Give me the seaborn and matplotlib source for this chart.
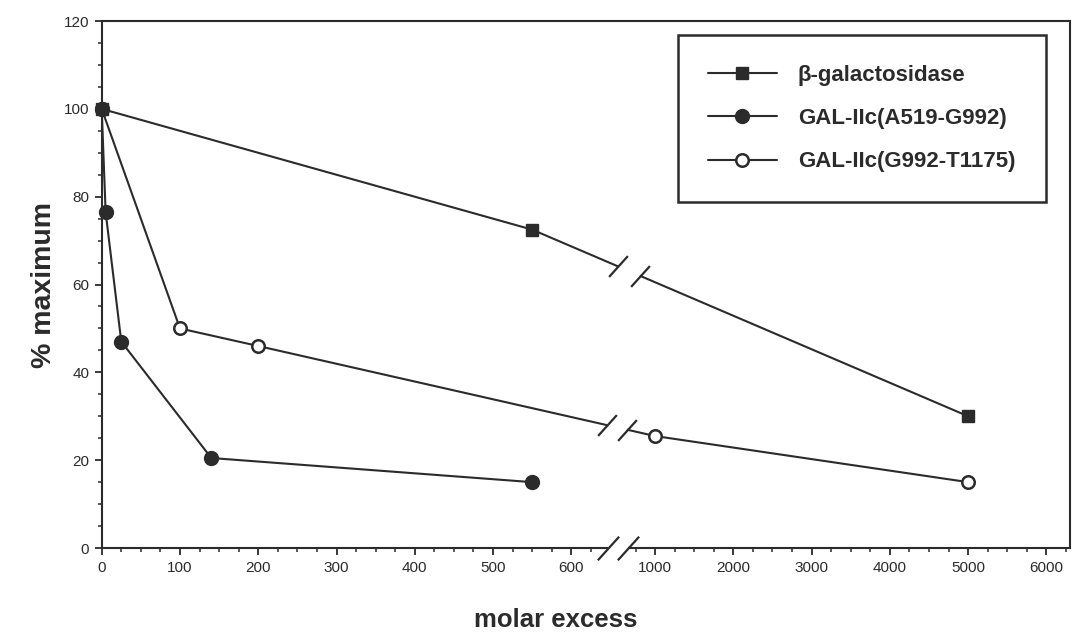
import numpy as np
import matplotlib
matplotlib.use("Agg")
import matplotlib.pyplot as plt
from matplotlib.path import Path
import seaborn as sns

# values: % of maximum vs molar excess
bgal_x = [0, 550, 5000]
bgal_y = [100, 72.5, 30]
a519_x = [0, 5, 25, 140, 550]
a519_y = [100, 76.5, 47, 20.5, 15]
g992_x = [0, 100, 200, 1000, 5000]
g992_y = [100, 50, 46, 25.5, 15]

labels = ['β-galactosidase', 'GAL-IIc(A519-G992)', 'GAL-IIc(G992-T1175)']
left_ticks = [0, 100, 200, 300, 400, 500, 600]
right_ticks = [1000, 2000, 3000, 4000, 5000, 6000]
y_ticks = [0, 20, 40, 60, 80, 100, 120]

INK = '#2b2b2b'
CUT = 650      # last value on the x100 part of the axis
OFFSET = 6.07  # shift of the x1000 part, in axis units


def fwd(x):
    x = np.asarray(x, dtype=float)
    return np.where(x <= CUT, x / 100.0, x / 1000.0 + OFFSET)


def inv(u):
    u = np.asarray(u, dtype=float)
    lo = CUT / 100.0
    hi = CUT / 1000.0 + OFFSET
    return np.where(u <= lo, u * 100.0, np.where(u >= hi, (u - OFFSET) * 1000.0, CUT))


sns.set_style('ticks')
plt.rcParams['font.family'] = ['Liberation Sans', 'DejaVu Sans']
plt.rcParams['text.color'] = INK
plt.rcParams['axes.labelcolor'] = INK

fig = plt.figure(figsize=(10.74, 6.34), dpi=100)
ax = fig.add_axes([0.0947, 0.1356, 0.9015, 0.8312])

line_kw = dict(ax=ax, color=INK, linewidth=1.5, markeredgecolor=INK, clip_on=False)
sns.lineplot(x=bgal_x, y=bgal_y, marker='s', markersize=8, markeredgewidth=1,
             label=labels[0], **line_kw)
sns.lineplot(x=g992_x, y=g992_y, marker='o', markersize=9, markeredgewidth=1.8,
             markerfacecolor='white', label=labels[2], **line_kw)
sns.lineplot(x=a519_x, y=a519_y, marker='o', markersize=10, markeredgewidth=1,
             label=labels[1], **line_kw)

ax.set_xscale('function', functions=(fwd, inv))
ax.set_xlim(0, 6300)
ax.set_ylim(0, 120)

ax.set_xticks(left_ticks + right_ticks)
ax.set_xticklabels([str(t) for t in left_ticks + right_ticks])
minor_x = [v for v in range(25, 650, 25) if v % 100] + \
          [v for v in range(750, 6300, 250) if v % 1000]
ax.set_xticks(minor_x, minor=True)
ax.set_yticks(y_ticks)
ax.set_yticks([v for v in range(0, 121, 5) if v % 20], minor=True)

ax.tick_params(which='major', direction='out', length=5, width=1.3, colors=INK,
               labelsize=11, pad=4)
ax.tick_params(which='minor', direction='out', length=3, width=1.1, colors=INK)
for sp in ax.spines.values():
    sp.set_linewidth(1.5)
    sp.set_color(INK)

ax.set_xlabel('molar excess', fontsize=18.5, fontweight='bold')
ax.set_ylabel('% maximum', fontsize=20.5, fontweight='bold')
ax.xaxis.set_label_coords(0.469, -0.113)
ax.yaxis.set_label_coords(-0.046, 0.5)

# axis-break marks, drawn in scaled axis units
tr = ax.transLimits + ax.transAxes
SLASH = Path([(-0.9, -1), (0.9, 1)], [Path.MOVETO, Path.LINETO])


def cut(u_pair, y_pair, lw, ms=15):
    ax.plot(u_pair, y_pair, color='white', lw=lw, transform=tr, zorder=3,
            solid_capstyle='butt', clip_on=False)
    ax.plot(u_pair, y_pair, ls='none', marker=SLASH, ms=ms, mew=1.6, color=INK,
            transform=tr, zorder=4, clip_on=False)


cut([6.47, 6.72], [0, 0], 4, ms=17)
for xs, ys, u_pair in [(bgal_x, bgal_y, [6.594, 6.875]), (g992_x, g992_y, [6.454, 6.709])]:
    cut(u_pair, np.interp(u_pair, fwd(xs), ys), 4)

handles, labs = ax.get_legend_handles_labels()
order = [labs.index(l) for l in labels]
leg = ax.legend([handles[i] for i in order], labels, loc='upper left',
                bbox_to_anchor=(678 / 1074, 1 - 35 / 634), bbox_transform=fig.transFigure,
                frameon=True, fancybox=False, framealpha=1, edgecolor=INK,
                borderpad=1.35, handlelength=3.1, handletextpad=0.95, labelspacing=1.0,
                borderaxespad=0, prop=dict(weight='bold', size=16))
leg.get_frame().set_linewidth(1.8)

fig.savefig('out.png', dpi=100)
